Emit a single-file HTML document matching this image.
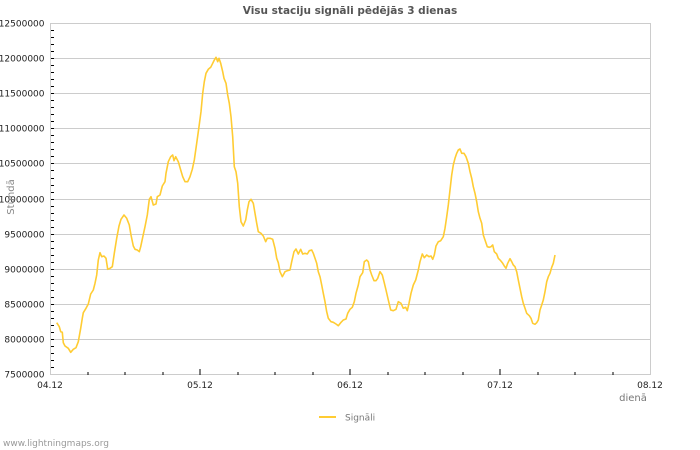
<!DOCTYPE html>
<html><head><meta charset="utf-8"><style>
html,body{margin:0;padding:0;background:#fff;}
svg{display:block;}
text{font-family:"DejaVu Sans","Liberation Sans",sans-serif;}
</style></head><body>
<svg width="700" height="450" viewBox="0 0 700 450" xmlns="http://www.w3.org/2000/svg">
<rect x="0" y="0" width="700" height="450" fill="#fff"/>
<text x="350" y="14" text-anchor="middle" font-size="10.5" font-weight="bold" fill="#555">Visu staciju signāli pēdējās 3 dienas</text>
<g stroke="#ccc" stroke-width="1" shape-rendering="crispEdges">
<line x1="50" y1="23.5" x2="650" y2="23.5"/>
<line x1="50" y1="58.5" x2="650" y2="58.5"/>
<line x1="50" y1="93.5" x2="650" y2="93.5"/>
<line x1="50" y1="128.5" x2="650" y2="128.5"/>
<line x1="50" y1="163.5" x2="650" y2="163.5"/>
<line x1="50" y1="199.5" x2="650" y2="199.5"/>
<line x1="50" y1="234.5" x2="650" y2="234.5"/>
<line x1="50" y1="269.5" x2="650" y2="269.5"/>
<line x1="50" y1="304.5" x2="650" y2="304.5"/>
<line x1="50" y1="339.5" x2="650" y2="339.5"/>
<line x1="650.5" y1="23" x2="650.5" y2="375"/>
<line x1="50.5" y1="23" x2="50.5" y2="375"/>
<line x1="50" y1="374.5" x2="651" y2="374.5"/>
</g>
<g stroke="#000" stroke-width="1" shape-rendering="crispEdges">
<path d="M51 30.5h3M51 37.5h3M51 44.5h3M51 51.5h3M51 58.5h3M51 65.5h3M51 72.5h3M51 79.5h3M51 86.5h3M51 93.5h3M51 100.5h3M51 107.5h3M51 114.5h3M51 121.5h3M51 128.5h3M51 135.5h3M51 142.5h3M51 149.5h3M51 156.5h3M51 163.5h3M51 170.5h3M51 178.5h3M51 185.5h3M51 192.5h3M51 199.5h3M51 206.5h3M51 213.5h3M51 220.5h3M51 227.5h3M51 234.5h3M51 241.5h3M51 248.5h3M51 255.5h3M51 262.5h3M51 269.5h3M51 276.5h3M51 283.5h3M51 290.5h3M51 297.5h3M51 304.5h3M51 311.5h3M51 318.5h3M51 325.5h3M51 332.5h3M51 339.5h3M51 346.5h3M51 353.5h3M51 360.5h3M51 367.5h3"/>
<path d="M88 372v3M125 372v3M163 372v3M200 369v6M238 372v3M275 372v3M313 372v3M350 369v6M388 372v3M425 372v3M463 372v3M500 369v6M538 372v3M575 372v3M613 372v3"/>
</g>
<g font-size="9" fill="#222" text-anchor="end">
<text x="44.5" y="26.5">12500000</text>
<text x="44.5" y="61.5">12000000</text>
<text x="44.5" y="96.5">11500000</text>
<text x="44.5" y="131.5">11000000</text>
<text x="44.5" y="166.5">10500000</text>
<text x="44.5" y="202.5">10000000</text>
<text x="44.5" y="237.5">9500000</text>
<text x="44.5" y="272.5">9000000</text>
<text x="44.5" y="307.5">8500000</text>
<text x="44.5" y="342.5">8000000</text>
<text x="44.5" y="377.5">7500000</text>
</g>
<g font-size="9" fill="#222" text-anchor="middle">
<text x="50" y="388">04.12</text>
<text x="200" y="388">05.12</text>
<text x="350" y="388">06.12</text>
<text x="500" y="388">07.12</text>
<text x="650" y="388">08.12</text>
</g>
<text x="633" y="401" font-size="10" fill="#777" text-anchor="middle">dienā</text>
<text transform="translate(14,197) rotate(-90)" font-size="10" fill="#888" text-anchor="middle">Stundā</text>
<polyline fill="none" stroke="#ffcc33" stroke-width="1.6" stroke-linejoin="round" points="56.7,322.7 59.3,326.7 60.7,331.7 62.3,332.3 63.3,342.7 65,346 68.3,348.3 70.7,352.3 73.3,349.3 76,347.7 78.3,341.7 80.7,328.3 82.3,318.3 83.3,312.7 86,308.3 88.3,304 90.7,294 93.3,290 95,283.3 96.7,275 98.3,260 100,252.7 101.7,256.7 104,256 106,258.3 107.7,269.3 110,268.3 112.3,266.7 114.3,253.3 116.7,238.3 119,226 121,219.3 124,215 126.7,218.3 129.3,225 131,235 133.3,246 135,249.3 137.3,250 139.3,251.7 140.7,246.7 142.7,237.3 145,226.7 147.3,215 149.3,199.3 151,196.7 153.3,205 156,204 157.3,196.7 160,195 162.3,186 165,181.7 166,173.3 168.3,161.7 170.7,156.7 172.7,155 174,160.7 175.7,156.7 178.3,161.7 180.7,170 182.7,176.7 185,181.7 187.7,181.7 190,176.7 192.3,169.3 194.3,160 196.7,143.3 199,126.7 201,111.7 202.7,93.3 204.3,81.7 206,73.3 208.3,69.3 210.7,67.3 212.7,63.3 214.3,60 216,57.3 217.7,61.7 219,58.3 220.7,63.3 222.7,71.7 224,78.3 226,83.3 227.7,95 229.3,103.3 231,116.7 232.7,136.7 234.3,166.7 236,171.7 237.7,183.3 239.3,206.7 241,221.7 243.3,226 245.7,220 247.3,210 249,201.7 251,199.3 253.3,203.3 255,213.3 256.7,223.3 258.3,231.7 261,233.3 263.3,236 265.7,241.7 267.3,238.3 270,238.3 272.7,239.3 275,248.3 276.7,258.3 278.3,262.7 280,271.7 282.3,276.7 285,271.7 287.3,270.7 290,270 291.7,261.7 294,251.7 296,249 298.3,254 300.7,249.3 302.7,254 305,253.3 307.3,254 309.3,250.7 311.7,250 313.3,253.3 315,258.3 316.7,263.3 318.3,271.7 320,276.7 321.7,285 323.3,293.3 325,301.7 326.7,311.7 328.3,318.3 331,321.7 333.3,322.3 336,324 338.3,325.7 340.7,322.7 343.3,320 346,319 347.7,313.3 350,309.3 352.3,307.3 354.3,301.7 356,293.3 358.3,285 360,276.7 362.7,272.7 364.3,261.7 366.7,260 368.3,261.7 370,270 371.7,275 374,280.7 376,280.7 377.7,278.3 380,271.7 382.3,275 384,281.7 386,290 388.3,300 390.7,310 393.3,310.7 396,309.3 398.3,301.7 401,303.3 403.3,308.3 405.7,307.3 407.3,310.7 409,303.3 411,293.3 413.3,285 415.7,280 418.3,270 420,261.7 422.3,254 424.3,257.7 426.7,255 429,256.7 431,256 432.7,259.3 434.3,255 436,246 438.3,241.7 440.7,240.7 443.3,236.7 445,228.3 446.7,216.7 448.3,205 450,190 451.7,175 453.3,165 455,158.3 456.7,153.3 458.3,150 460,149 461.7,153.3 464,153.3 466,156.7 468.3,163.3 470,171.7 471.7,178.3 473.3,186.7 475,193.3 476.7,201.7 478.3,211.7 480,218.3 481.7,223.3 483.3,235 485,240 487.3,246.7 489.3,247.3 491,246.7 492.7,245 494.3,251.7 496.7,254 498.3,258.3 500.7,260.7 502.7,263.3 504.3,266 506,268.3 507.7,263.3 510,258.7 511.7,261.7 513.3,265 515,266.7 516.7,271.7 518.3,280 520,288.3 521.7,296.7 523.3,303.3 525,308.3 526.7,313.3 529.3,315.7 531,318.3 532.7,323.3 535,324.3 536.7,322.7 538.3,320 540,310 541.7,305 543.3,300 545,291.7 546.7,281.7 548.3,276.7 550,273.3 551.7,267.3 553.3,263.3 555,255"/>
<line x1="319" y1="417" x2="336" y2="417" stroke="#ffcc33" stroke-width="2"/>
<text x="345" y="420.5" font-size="9" fill="#777">Signāli</text>
<text x="3" y="446" font-size="9" fill="#999">www.lightningmaps.org</text>
</svg>
</body></html>
